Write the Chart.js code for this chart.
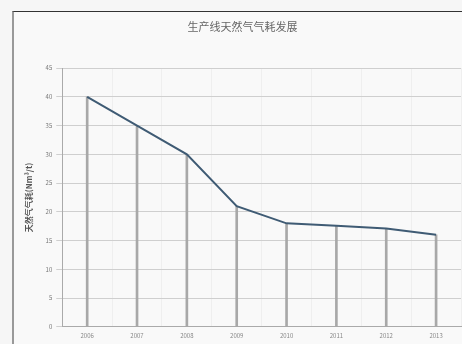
<!DOCTYPE html>
<html>
<head>
<meta charset="utf-8">
<script src="https://cdn.jsdelivr.net/npm/chart.js@4"></script>
<style>
  html, body { margin: 0; padding: 0; background: #f6f6f6; }
  #frame {
    position: absolute; left: 12px; top: 11px; width: 450px; height: 333px;
    border-top: 1px solid #333; border-left: 2px solid #999;
    background: #f9f9f9;
  }
  #wrap { position: absolute; left: 0; top: 0; width: 462px; height: 344px; }
</style>
</head>
<body>
<div id="frame"></div>
<div id="wrap"><canvas id="c"></canvas></div>
<script>
// 年份 / 天然气气耗
const years = ["2006", "2007", "2008", "2009", "2010", "2011", "2012", "2013"];
const gasUse = [40, 35, 30, 21, 18, 17.6, 17.1, 16];
const yTicks = [0, 5, 10, 15, 20, 25, 30, 35, 40, 45];

const ctx = document.getElementById("c").getContext("2d");
const font = { family: "'Noto Sans CJK SC', 'DejaVu Sans', sans-serif" };

new Chart(ctx, {
  data: {
    labels: years,
    datasets: [
      {
        type: "line",
        data: gasUse,
        borderColor: "#3f5b74",
        borderWidth: 2,
        pointRadius: 0,
        tension: 0,
        order: 1,
      },
      {
        // drop lines from each point to the axis
        type: "bar",
        data: gasUse,
        backgroundColor: "#a8a8a8",
        barThickness: 2,
        order: 2,
      },
    ],
  },
  options: {
    responsive: true,
    maintainAspectRatio: false,
    animation: false,
    layout: { padding: { left: 24, right: 1, top: 20, bottom: 0 } },
    plugins: {
      legend: { display: false },
      tooltip: { enabled: false },
      title: {
        display: true,
        text: "生产线天然气气耗发展",
        color: "#666",
        font: { ...font, size: 11, weight: "normal" },
        padding: { top: 0, bottom: 35 },
      },
    },
    scales: {
      x: {
        offset: true,
        grid: { color: "rgba(0,0,0,0.04)", offset: true, drawTicks: false },
        border: { color: "#aaa" },
        ticks: { color: "#888", font: { ...font, size: 6 }, padding: 5, maxRotation: 0 },
      },
      y: {
        min: 0,
        max: 45,
        afterBuildTicks: (axis) => { axis.ticks = yTicks.map((v) => ({ value: v })); },
        grid: { color: "#cfcfcf", tickLength: 6 },
        border: { color: "#aaa" },
        ticks: { color: "#777", font: { ...font, size: 6 }, padding: 4 },
        title: {
          display: true,
          text: "天然气气耗(Nm³/t)",
          color: "#555",
          font: { ...font, size: 8, weight: "bold" },
          padding: { top: 0, bottom: 8 },
        },
      },
    },
  },
});
</script>
</body>
</html>
